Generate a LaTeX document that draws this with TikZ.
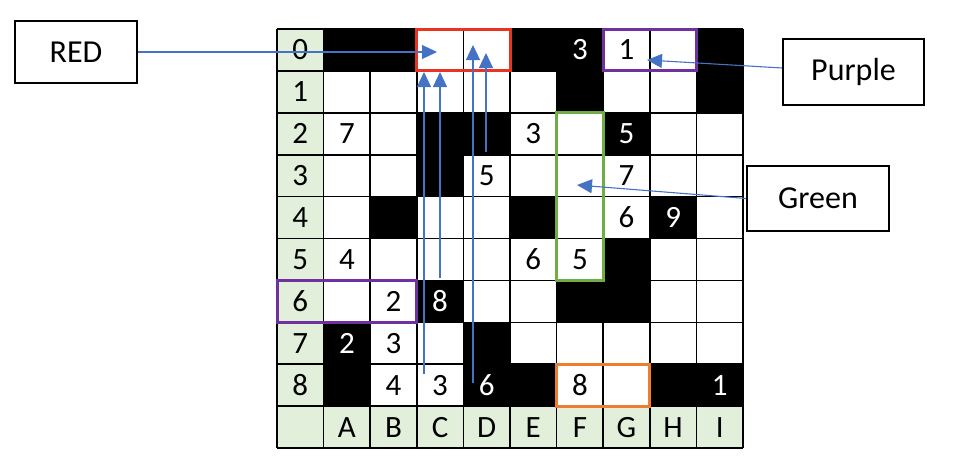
\documentclass[tikz,border=0pt]{standalone}
\usepackage{fontspec}
\setmainfont{Carlito}
\usetikzlibrary{arrows.meta}

\definecolor{headfill}{HTML}{E2EFDA}
\definecolor{arrowblue}{HTML}{4472C4}
\definecolor{boxred}{HTML}{EA3323}
\definecolor{boxpurple}{HTML}{7030A0}
\definecolor{boxgreen}{HTML}{70AD47}
\definecolor{boxorange}{HTML}{ED7D31}

\tikzset{
  digit/.style={font=\fontsize{31}{33}\selectfont,inner sep=0pt},
  digitw/.style={digit,text=white},
  tag/.style={draw,line width=1.6pt,font=\fontsize{32}{34}\selectfont},
  pointer/.style={draw=arrowblue,line width=1.1pt,-{Triangle[length=15pt,width=14pt]}},
  mark box/.style={line width=3pt}
}

\begin{document}
\begin{tikzpicture}[x=1pt,y=-1pt]
  \useasboundingbox (0,0) rectangle (956,474);

  % the board, one unit per cell
  \begin{scope}[shift={(277pt,-29pt)},x=46.6pt,y=-41.9pt]
    \fill[headfill] (0,0) rectangle (1,10);
    \fill[headfill] (1,9) rectangle (10,10);
    \foreach \c/\r in {1/0,2/0,5/0,6/0,9/0, 6/1,9/1, 3/2,4/2,7/2, 3/3,
                       2/4,5/4,8/4, 7/5, 3/6,6/6,7/6, 1/7,4/7,
                       1/8,4/8,5/8,8/8,9/8}
      \fill (\c,\r) rectangle ++(1,1);
    \foreach \k in {0,...,10} {
      \draw[line width=1.6pt] (\k,0) -- (\k,10);
      \draw[line width=1.6pt] (0,\k) -- (10,\k);
    }
    % row and column headings
    \foreach \r in {0,...,8}
      \node[digit] (row\r) at (0.5,\r+0.5) {\r};
    \foreach \c/\l in {1/A,2/B,3/C,4/D,5/E,6/F,7/G,8/H,9/I}
      \node[digit] (col\l) at (\c+0.5,9.5) {\l};
    % clues on white cells
    \foreach \c/\r/\n in {7/0/1, 1/2/7, 5/2/3, 4/3/5, 7/3/7, 7/4/6, 1/5/4,
                          5/5/6, 6/5/5, 2/6/2, 2/7/3, 2/8/4, 3/8/3, 6/8/8}
      \node[digit] (w\c\r) at (\c+0.5,\r+0.5) {\n};
    % clues on black cells
    \foreach \c/\r/\n in {6/0/3, 7/2/5, 8/4/9, 3/6/8, 1/7/2, 4/8/6, 9/8/1}
      \node[digitw] (b\c\r) at (\c+0.5,\r+0.5) {\n};
    % coloured groups
    \draw[mark box,boxred] (3,0) rectangle (5,1);
    \draw[mark box,boxpurple] (7,0) rectangle (9,1);
    \draw[mark box,boxpurple] (0,6) rectangle (3,7);
    \draw[mark box,boxgreen] (6,2) rectangle (7,6);
    \draw[mark box,boxorange] (6,8) rectangle (8,9);
  \end{scope}

  % call-outs
  \node[tag,minimum width=122pt,minimum height=62pt] (red) at (76,52) {RED};
  \node[tag,minimum width=141pt,minimum height=66pt] (purple) at (853.5,72) {Purple};
  \node[tag,minimum width=142pt,minimum height=65pt] (green) at (818,198.5) {Green};

  \coordinate (redtip) at (437,52);
  \coordinate (purpletip) at (647,60);
  \coordinate (greentip) at (577,185);
  \draw[pointer] (red.east) -- (redtip);
  \draw[pointer] ([yshift=4pt]purple.west) -- (purpletip);
  \draw[pointer] (green.west) -- (greentip);

  % arrows up into the red pair
  \coordinate (fromC8) at (424,374);
  \coordinate (toC8) at (424,72);
  \coordinate (fromC6) at (440,278);
  \coordinate (toC6) at (440,72);
  \coordinate (fromD8) at (473,383);
  \coordinate (toD8) at (473,45);
  \coordinate (fromD3) at (486,152);
  \coordinate (toD3) at (486,53);
  \draw[pointer] (fromC8) -- (toC8);
  \draw[pointer] (fromC6) -- (toC6);
  \draw[pointer] (fromD8) -- (toD8);
  \draw[pointer] (fromD3) -- (toD3);
\end{tikzpicture}
\end{document}
